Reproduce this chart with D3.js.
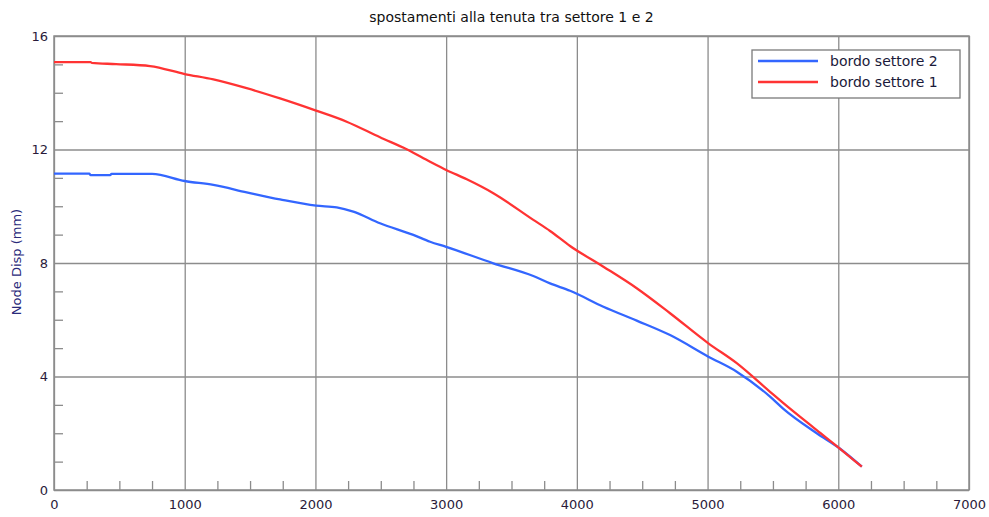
<!DOCTYPE html>
<html>
<head>
<meta charset="utf-8">
<script src="https://cdn.jsdelivr.net/npm/d3@7"></script>
<style>
  body { margin: 0; background: #fff; }
  text { font-family: "DejaVu Sans", sans-serif; }
</style>
</head>
<body>
<div id="chart"></div>
<script>
// values
const sett2X = [0, 270, 280, 430, 440, 750, 1000, 1219, 1474, 1729, 2005, 2163, 2290, 2494, 2749, 2877, 3000, 3361, 3667, 3795, 3948, 4203, 4458, 4713, 5006, 5223, 5478, 5580, 5835, 6009, 6180];
const sett2Y = [11.15, 11.15, 11.10, 11.10, 11.14, 11.14, 10.89, 10.75, 10.49, 10.24, 10.02, 9.96, 9.81, 9.40, 8.99, 8.75, 8.57, 7.99, 7.54, 7.28, 7.02, 6.46, 5.97, 5.46, 4.70, 4.17, 3.29, 2.86, 2.00, 1.47, 0.82];

const sett1X = [0, 280, 290, 475, 735, 1000, 1219, 1474, 1729, 2005, 2239, 2494, 2698, 2877, 3000, 3158, 3361, 3667, 3795, 3948, 4203, 4458, 4713, 5006, 5223, 5478, 5580, 5835, 6009, 6180];
const sett1Y = [15.08, 15.08, 15.05, 15.01, 14.94, 14.66, 14.47, 14.16, 13.80, 13.37, 12.98, 12.43, 12.01, 11.57, 11.28, 10.95, 10.46, 9.52, 9.13, 8.60, 7.87, 7.11, 6.23, 5.17, 4.47, 3.46, 3.06, 2.11, 1.47, 0.82];

const xTicks = [0, 1000, 2000, 3000, 4000, 5000, 6000, 7000];
const yTicks = [0, 4, 8, 12, 16];

const seriesNames = ["bordo settore 2", "bordo settore 1"];
const seriesColors = ["#3366ff", "#ff3333"];

const width = 989, height = 517;
const margin = {top: 36, right: 20, bottom: 27, left: 54};

const svg = d3.select("#chart").append("svg")
  .attr("width", width)
  .attr("height", height);

const x = d3.scaleLinear().domain([0, 7000]).range([margin.left, width - margin.right]);
const y = d3.scaleLinear().domain([0, 16]).range([height - margin.bottom, margin.top]);

const gridColor = "#8c8c8c";

// grid
svg.append("g")
  .attr("transform", `translate(0,${y(0)})`)
  .call(d3.axisBottom(x).tickValues(xTicks).tickSize(-(y(0) - y(16))).tickFormat(""))
  .call(g => g.select(".domain").remove())
  .selectAll("line").attr("stroke", gridColor).attr("stroke-width", 1.3);

svg.append("g")
  .attr("transform", `translate(${x(0)},0)`)
  .call(d3.axisLeft(y).tickValues(yTicks).tickSize(-(x(7000) - x(0))).tickFormat(""))
  .call(g => g.select(".domain").remove())
  .selectAll("line").attr("stroke", gridColor).attr("stroke-width", 1.3);

// minor ticks pointing into the plot
const xMinor = d3.range(0, 7001, 250).filter(v => v % 1000 !== 0);
const yMinor = d3.range(0, 16.01, 1).filter(v => v % 4 !== 0);

svg.append("g")
  .attr("transform", `translate(0,${y(0)})`)
  .call(d3.axisTop(x).tickValues(xMinor).tickSize(9).tickFormat(""))
  .call(g => g.select(".domain").remove())
  .selectAll("line").attr("stroke", gridColor).attr("stroke-width", 1.3);

svg.append("g")
  .attr("transform", `translate(${x(0)},0)`)
  .call(d3.axisRight(y).tickValues(yMinor).tickSize(9).tickFormat(""))
  .call(g => g.select(".domain").remove())
  .selectAll("line").attr("stroke", gridColor).attr("stroke-width", 1.3);

// frame
svg.append("rect")
  .attr("x", x(0)).attr("y", y(16))
  .attr("width", x(7000) - x(0)).attr("height", y(0) - y(16))
  .attr("fill", "none").attr("stroke", gridColor).attr("stroke-width", 1.5);

// tick labels
const xAxis = svg.append("g")
  .attr("transform", `translate(0,${y(0)})`)
  .call(d3.axisBottom(x).tickValues(xTicks).tickSize(0).tickPadding(10).tickFormat(d3.format("d")));
xAxis.select(".domain").remove();
xAxis.selectAll("text").attr("font-size", 13).attr("fill", "#2a1a3a").attr("font-family", "DejaVu Sans");

const yAxis = svg.append("g")
  .attr("transform", `translate(${x(0)},0)`)
  .call(d3.axisLeft(y).tickValues(yTicks).tickSize(0).tickPadding(6).tickFormat(d3.format("d")));
yAxis.select(".domain").remove();
yAxis.selectAll("text").attr("font-size", 13).attr("fill", "#2a1a3a").attr("font-family", "DejaVu Sans");

// lines
const line = d3.line().x(d => x(d[0])).y(d => y(d[1])).curve(d3.curveMonotoneX);
const series = [
  d3.zip(sett2X, sett2Y),
  d3.zip(sett1X, sett1Y)
];

svg.append("g").selectAll("path")
  .data(series)
  .join("path")
  .attr("d", line)
  .attr("fill", "none")
  .attr("stroke", (d, i) => seriesColors[i])
  .attr("stroke-width", 2.3)
  .attr("stroke-linejoin", "round");

// title
svg.append("text")
  .attr("x", (x(0) + x(7000)) / 2)
  .attr("y", 22)
  .attr("text-anchor", "middle")
  .attr("font-size", 14)
  .attr("fill", "#111")
  .text("spostamenti alla tenuta tra settore 1 e 2");

// y label
svg.append("text")
  .attr("transform", "translate(21,262) rotate(-90)")
  .attr("text-anchor", "middle")
  .attr("font-size", 13)
  .attr("fill", "#2a2a7a")
  .text("Node Disp  (mm)");

// legend
const legend = svg.append("g").attr("transform", "translate(752,50)");
legend.append("rect")
  .attr("width", 208).attr("height", 48)
  .attr("fill", "#fff").attr("stroke", "#7a7a7a").attr("stroke-width", 1.3);

const items = legend.selectAll("g.item")
  .data(seriesNames)
  .join("g")
  .attr("class", "item")
  .attr("transform", (d, i) => `translate(0,${11 + i * 21})`);

items.append("line")
  .attr("x1", 6).attr("x2", 66)
  .attr("stroke", (d, i) => seriesColors[i])
  .attr("stroke-width", 2.5);

items.append("text")
  .attr("x", 78).attr("dy", "0.35em")
  .attr("font-size", 14)
  .attr("fill", "#1a1a3a")
  .text(d => d);
</script>
</body>
</html>
